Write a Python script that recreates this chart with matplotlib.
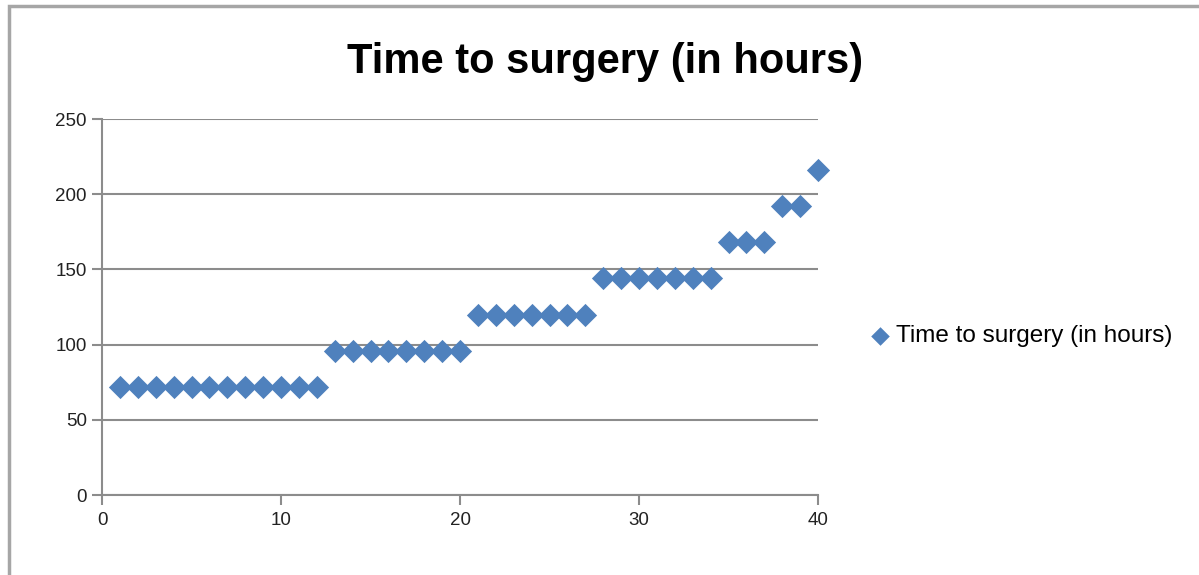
import matplotlib
matplotlib.use("Agg")
import matplotlib.pyplot as plt
from matplotlib.patches import Rectangle

# 手术时间数据 (小时)
patients = list(range(1, 41))
hours = [72] * 12 + [96] * 8 + [120] * 7 + [144] * 7 + [168] * 3 + [192] * 2 + [216]
series_name = "Time to surgery (in hours)"
x_ticks = [0, 10, 20, 30, 40]
y_ticks = [0, 50, 100, 150, 200, 250]

plt.rcParams['font.family'] = ['Liberation Sans', 'DejaVu Sans']

fig = plt.figure(figsize=(11.99, 5.75), dpi=100)
ax = fig.add_axes([0.0851, 0.1391, 0.5972, 0.6539])

grey = "#8c8c8c"
ax.scatter(patients, hours, marker="D", s=140, color="#4F81BD", linewidths=0,
           label=series_name, zorder=3, clip_on=False)

ax.set_xlim(0, 40)
ax.set_ylim(0, 250)
ax.set_xticks(x_ticks)
ax.set_yticks(y_ticks)
ax.grid(axis="y", color=grey, linewidth=1.5)
ax.set_axisbelow(True)
for s in ["top", "right"]:
    ax.spines[s].set_visible(False)
for s in ["left", "bottom"]:
    ax.spines[s].set_color(grey)
    ax.spines[s].set_linewidth(1.5)
ax.tick_params(axis="both", colors=grey, width=1.5, length=7, labelsize=13.5,
               labelcolor="#222222")
ax.tick_params(axis="x", pad=5)
ax.tick_params(axis="y", pad=4)

fig.text(0.505, 0.893, "Time to surgery (in hours)", ha="center", va="center",
         fontsize=30, fontweight="bold")

ax.legend(loc="center left", bbox_to_anchor=(1.037, 0.423), frameon=False,
          fontsize=17.5, handletextpad=0.1, handlelength=1.1, markerscale=0.8)

# 外框
fig.patches.append(Rectangle((0.0075, -0.1), 1.2, 1.089, transform=fig.transFigure,
                             fill=False, edgecolor="#a6a6a6", linewidth=2.5))

fig.savefig("out.png", dpi=100)
